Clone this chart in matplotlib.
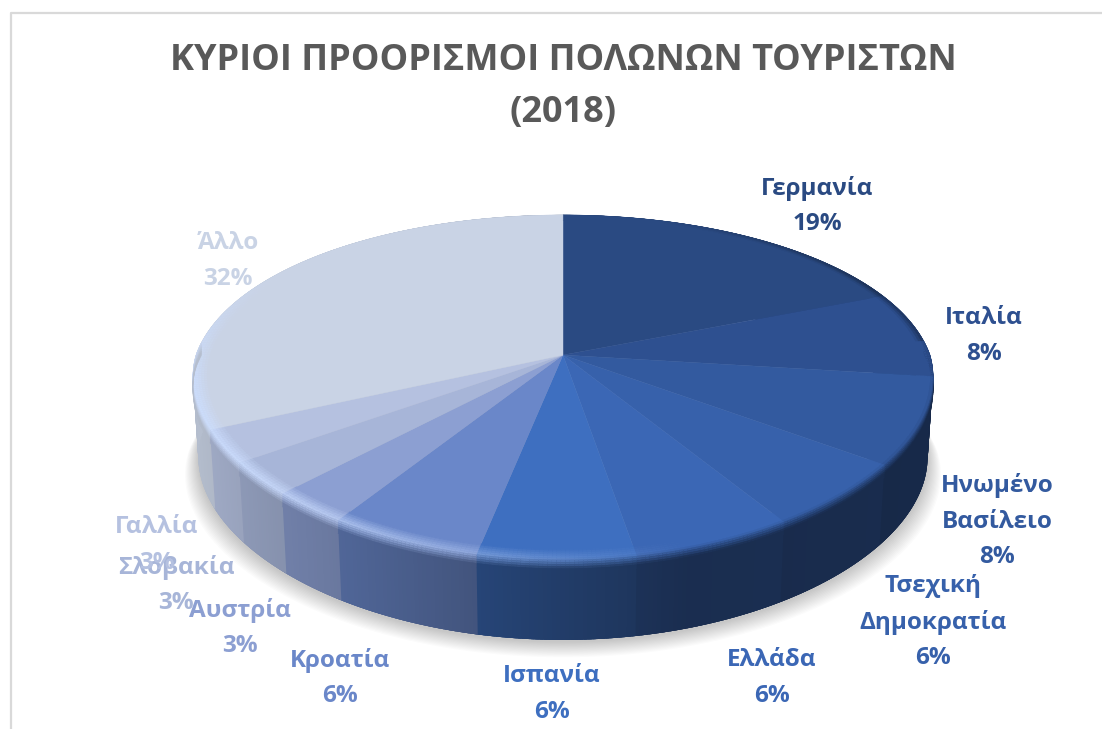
import numpy as np
import matplotlib
matplotlib.use("Agg")
import matplotlib.pyplot as plt
from matplotlib.collections import PolyCollection
from matplotlib.colors import to_rgb

categories = ["Γερμανία", "Ιταλία", "Ηνωμένο\nΒασίλειο", "Τσεχική\nΔημοκρατία", "Ελλάδα",
              "Ισπανία", "Κροατία", "Αυστρία", "Σλοβακία", "Γαλλία", "Άλλο"]
shares = [18.8, 8.2, 8.0, 6.0, 6.2, 6.1, 5.9, 3.0, 3.0, 3.0, 31.8]
colors = ["#2A4A82", "#2E5090", "#335A9F", "#3761AB", "#3B67B5", "#3E6FC0",
          "#6A87C9", "#8C9FD2", "#A7B5D8", "#B5C1E0", "#C9D3E5"]

# label centres in pixels, same order as categories
label_x = [817, 984, 997, 933, 772, 552, 340, 240, 176, 157, 228]
label_y = [206, 336, 521, 622, 678, 694, 678, 628, 585, 545, 261]

title = "ΚΥΡΙΟΙ ΠΡΟΟΡΙΣΜΟΙ ΠΟΛΩΝΩΝ ΤΟΥΡΙΣΤΩΝ\n(2018)"

# pie geometry, a tilted disc in perspective
CX, CY = 563, 355
AX, BY = 367, 166.4
KX, KX_BACK, KY = 0.13, 0.16, 0.188
DEPTH = 80
BOTTOM_SCALE = 0.985
FONT = ["Open Sans", "DejaVu Sans"]


def rim(t, r=1.0):
    u, v = r * np.sin(t), -r * np.cos(t)
    kx = np.where(v > 0, KX, KX_BACK)
    return CX + AX * u / (1 - kx * v), CY + BY * v / (1 - KY * v)


def low_rim(t):
    x, y = rim(t)
    return CX + (x - CX) * BOTTOM_SCALE, y + DEPTH


def side_shade(t):
    return np.interp(np.sin(t), [-1, -0.9, -0.5, -0.1, 0.3, 1], [0.9, 0.87, 0.74, 0.58, 0.44, 0.46])


def highlight(t):
    fade = np.clip((0.55 - np.cos(t)) / 0.7, 0, 1)
    return np.clip((0.3 - np.sin(t)) / 1.1, 0, 1) * 0.85 * fade


fig = plt.figure(figsize=(11.02, 7.29), dpi=100)
ax = fig.add_axes([0, 0, 1, 1])
ax.set_xlim(0, 1102)
ax.set_ylim(729, 0)
ax.axis("off")

# chart frame
ax.plot([11, 11, 1102], [729, 12.5, 12.5], color="#D9D9D9", lw=1.6, zorder=1)

edges = np.cumsum([0] + shares) / sum(shares) * 2 * np.pi
full = np.linspace(0, 2 * np.pi, 361)

# soft shadow under the disc
sx, sy = low_rim(full)
for grow in np.linspace(1, 22, 14):
    scale = 1 + grow / 600
    ax.fill(CX + (sx - CX) * scale, sy + 2 + grow * 0.7,
            color="#000000", alpha=0.014, lw=0, zorder=2)

polys, faces = [], []
band = np.linspace(0, 1, 13)
for i, col in enumerate(colors):
    base = np.array(to_rgb(col))
    steps = max(int(shares[i] * 6), 6)
    ts = np.linspace(edges[i], edges[i + 1], steps + 1)
    for j in range(steps):
        tm = (ts[j] + ts[j + 1]) / 2
        # each quad runs under the next one so no seams show
        ta, tb = ts[j], ts[j + 1] + 0.03
        xa, ya = rim(ta)
        xb, yb = rim(tb)
        xc, yc = low_rim(tb)
        xd, yd = low_rim(ta)
        polys.append([(xa, ya), (xb, yb), (xc, yc), (xd, yd)])
        faces.append(base * side_shade(tm))
ax.add_collection(PolyCollection(polys, facecolors=faces, edgecolors="none", zorder=3))

# flat top of every slice
for i, col in enumerate(colors):
    ts = np.linspace(edges[i], edges[i + 1], 120)
    x, y = rim(ts)
    ax.fill(np.r_[CX, x], np.r_[CY, y], color=col, lw=0.3, zorder=4)

# rounded bevel along the rim: inner ring on the top, short strip on the side
polys, faces = [], []
light = np.array([0.80, 0.87, 1.0])
for i, col in enumerate(colors):
    base = np.array(to_rgb(col))
    steps = max(int(shares[i] * 6), 6)
    ts = np.linspace(edges[i], edges[i + 1], steps + 1)
    for j in range(steps):
        ta, tb = ts[j], ts[j + 1]
        tm = (ta + tb) / 2
        front = np.cos(tm) < 0.08
        side = base * side_shade(tm)
        dark = np.clip((np.sin(tm) - 0.3) / 0.6, 0, 1)
        for s0, s1 in zip(band[:-1], band[1:]):
            sm = (s0 + s1) / 2
            if not front and s0 >= 0.5:
                continue
            mix = np.clip((sm - 0.42) / 0.4, 0, 1) if front else dark * np.clip((sm - 0.25) / 0.25, 0, 1) * 0.7
            c = base * (1 - mix) + side * mix
            bump = max(0, 1 - abs(sm - 0.45) / 0.42)
            c = c * (1 - highlight(tm) * bump) + light * highlight(tm) * bump
            quad = []
            for t, s in ((ta, s0), (tb, s0), (tb, s1), (ta, s1)):
                xi, yi = rim(t, 1 - 0.045 * max(0, 1 - s / 0.5))
                yi += 13 * max(0, s - 0.5) / 0.5
                quad.append((float(xi), float(yi)))
            polys.append(quad)
            faces.append(np.clip(c, 0, 1))
ax.add_collection(PolyCollection(polys, facecolors=faces, edgecolors="face", linewidths=0.2, zorder=5))

for name, val, col, lx, ly in zip(categories, shares, colors, label_x, label_y):
    ax.text(lx, ly, f"{name}\n{val:.0f}%", color=col, fontsize=17.5, fontweight="bold", family=FONT,
            ha="center", va="center", linespacing=1.62, zorder=6)

ax.text(563, 87, title, color="#595959", fontsize=26, fontweight="bold", family=FONT,
        ha="center", va="center", linespacing=1.62, zorder=6)

fig.savefig("out.png", dpi=100)
